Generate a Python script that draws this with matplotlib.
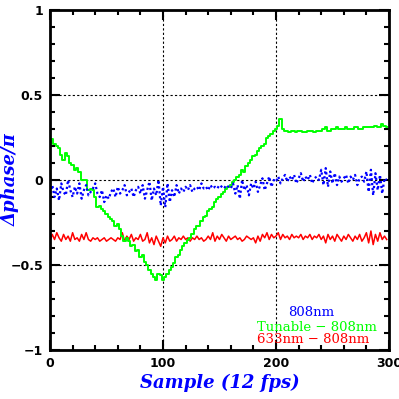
import numpy as np
import matplotlib
matplotlib.use("Agg")
import matplotlib.pyplot as plt
from matplotlib.ticker import MultipleLocator

# samples read every 2 frames off the picture
samples = np.arange(0, 300, 2)

tunable = [0.22, 0.24, 0.21, 0.20, 0.19, 0.15, 0.12, 0.16, 0.14, 0.10,
           0.09, 0.06, 0.07, 0.05, 0.00, 0.00, 0.00, -0.06, -0.05, -0.06,
           -0.10, -0.16, -0.15, -0.17, -0.18, -0.20, -0.22, -0.23, -0.24, -0.27,
           -0.26, -0.29, -0.33, -0.36, -0.34, -0.36, -0.39, -0.38, -0.42, -0.41,
           -0.45, -0.44, -0.48, -0.50, -0.53, -0.55, -0.57, -0.59, -0.55, -0.56,
           -0.59, -0.57, -0.55, -0.53, -0.51, -0.49, -0.45, -0.44, -0.41, -0.39,
           -0.37, -0.35, -0.34, -0.32, -0.29, -0.27, -0.27, -0.24, -0.22, -0.21,
           -0.18, -0.17, -0.16, -0.13, -0.11, -0.10, -0.08, -0.07, -0.05, -0.04,
           -0.03, -0.01, 0.00, 0.02, 0.03, 0.06, 0.05, 0.08, 0.10, 0.12,
           0.14, 0.15, 0.17, 0.19, 0.20, 0.21, 0.25, 0.26, 0.27, 0.29,
           0.30, 0.32, 0.36, 0.30, 0.29, 0.29, 0.28, 0.29, 0.29, 0.28,
           0.29, 0.29, 0.28, 0.28, 0.29, 0.29, 0.29, 0.28, 0.29, 0.29,
           0.29, 0.30, 0.31, 0.29, 0.29, 0.30, 0.30, 0.31, 0.30, 0.30,
           0.30, 0.31, 0.30, 0.30, 0.30, 0.31, 0.31, 0.30, 0.30, 0.31,
           0.31, 0.31, 0.31, 0.31, 0.32, 0.31, 0.31, 0.33, 0.32, 0.31]

ref808 = [-0.08, -0.03, -0.10, -0.05, -0.12, -0.02, -0.07, -0.09, 0.00, -0.06,
          -0.10, -0.04, -0.08, -0.02, -0.11, -0.06, -0.03, -0.09, -0.07, -0.05,
          -0.02, -0.08, -0.10, -0.06, -0.13, -0.09, -0.11, -0.07, -0.05, -0.10,
          -0.04, -0.08, -0.06, -0.03, -0.09, -0.07, -0.05, -0.10, -0.06, -0.04,
          -0.08, -0.03, -0.11, -0.06, -0.01, -0.12, -0.05, -0.09, 0.00, -0.15,
          -0.04, -0.16, -0.02, -0.13, -0.06, -0.10, -0.03, -0.08, -0.05, -0.07,
          -0.04, -0.06, -0.03, -0.07, -0.05, -0.04, -0.06, -0.02, -0.05, -0.04,
          -0.06, -0.03, -0.05, -0.04, -0.05, -0.03, -0.04, -0.05, -0.03, -0.04,
          -0.05, -0.02, -0.08, -0.03, -0.11, 0.00, -0.06, -0.03, -0.09, -0.02,
          -0.05, -0.01, -0.07, -0.03, 0.01, -0.06, -0.02, 0.02, -0.04, 0.00,
          -0.01, 0.02, -0.02, 0.01, 0.03, -0.01, 0.02, 0.00, 0.03, -0.02,
          0.01, 0.04, -0.01, 0.02, 0.00, 0.03, -0.02, 0.01, 0.02, 0.00,
          0.06, -0.03, 0.07, -0.04, 0.05, -0.02, 0.04, -0.03, 0.02, -0.01,
          0.01, 0.03, -0.02, 0.02, 0.00, 0.03, -0.03, 0.01, 0.02, -0.01,
          0.05, -0.07, 0.06, -0.09, 0.04, -0.06, 0.03, -0.08, 0.01, 0.00]

red633 = [-0.36, -0.32, -0.35, -0.31, -0.34, -0.36, -0.32, -0.35, -0.33, -0.36,
          -0.31, -0.35, -0.34, -0.36, -0.32, -0.35, -0.31, -0.35, -0.36, -0.34,
          -0.35, -0.34, -0.36, -0.35, -0.34, -0.36, -0.35, -0.34, -0.35, -0.36,
          -0.34, -0.35, -0.31, -0.36, -0.33, -0.35, -0.32, -0.36, -0.34, -0.35,
          -0.32, -0.36, -0.35, -0.31, -0.37, -0.34, -0.38, -0.33, -0.36, -0.39,
          -0.34, -0.37, -0.33, -0.36, -0.35, -0.33, -0.36, -0.34, -0.35, -0.33,
          -0.35, -0.34, -0.36, -0.34, -0.35, -0.33, -0.35, -0.34, -0.36, -0.35,
          -0.33, -0.35, -0.31, -0.36, -0.33, -0.35, -0.32, -0.34, -0.36, -0.33,
          -0.35, -0.34, -0.33, -0.35, -0.34, -0.36, -0.35, -0.33, -0.34, -0.35,
          -0.34, -0.37, -0.33, -0.36, -0.32, -0.34, -0.31, -0.35, -0.32, -0.34,
          -0.33, -0.31, -0.35, -0.32, -0.34, -0.33, -0.35, -0.32, -0.34, -0.33,
          -0.34, -0.32, -0.35, -0.33, -0.34, -0.32, -0.35, -0.33, -0.34, -0.32,
          -0.35, -0.33, -0.37, -0.32, -0.35, -0.33, -0.36, -0.32, -0.34, -0.36,
          -0.33, -0.35, -0.32, -0.34, -0.36, -0.33, -0.35, -0.32, -0.36, -0.34,
          -0.31, -0.37, -0.30, -0.38, -0.32, -0.36, -0.31, -0.35, -0.33, -0.35]

legend_labels = ["808nm", "Tunable \u2212 808nm", "633nm \u2212 808nm"]
legend_colors = ["#0000ff", "#00ff00", "#ff0000"]

fig = plt.figure(figsize=(3.99, 3.99), dpi=100)
ax = fig.add_axes([50 / 399, 49 / 399, 339 / 399, 340 / 399])

ax.plot(samples, red633, color="#ff0000", lw=1.1)
ax.plot(samples, tunable, color="#00ff00", lw=1.4, drawstyle="steps-mid")
ax.plot(samples, ref808, color="#0000ff", lw=1.6, ls=(0, (1, 1.2)))

ax.set_xlim(0, 300)
ax.set_ylim(-1, 1)
ax.xaxis.set_major_locator(MultipleLocator(100))
ax.xaxis.set_minor_locator(MultipleLocator(20))
ax.yaxis.set_minor_locator(MultipleLocator(0.1))
ax.set_yticks([-1, -0.5, 0, 0.5, 1])
ax.set_yticklabels(["\u22121", "\u22120.5", "0", "0.5", "1"])
ax.tick_params(which="both", direction="in", top=True, right=True, width=1.5)
ax.tick_params(which="major", length=7, labelsize=9, pad=5)
ax.tick_params(which="minor", length=3.5)
for lab in ax.get_xticklabels() + ax.get_yticklabels():
    lab.set_fontweight("bold")
for sp in ax.spines.values():
    sp.set_linewidth(2)

ax.grid(True, which="major", color="black", ls=(0, (2, 2)), lw=0.8)

ax.set_xlabel("Sample (12 fps)", color="#0000ff", fontsize=13, weight="bold",
              style="italic", family="DejaVu Serif", labelpad=3)
ax.set_ylabel("\u0394phase/\u03c0", color="#0000ff", fontsize=13, weight="bold",
              style="italic", family="DejaVu Serif")
ax.yaxis.set_label_coords(-0.09, 0.5)

legend_y = [-0.78, -0.865, -0.94]
legend_x = [231, 236, 233]
for lx, ly, txt, col in zip(legend_x, legend_y, legend_labels, legend_colors):
    ax.text(lx, ly, txt, color=col, fontsize=9.5, family="DejaVu Serif",
            ha="center", va="center")

fig.savefig("out.png", dpi=100)
